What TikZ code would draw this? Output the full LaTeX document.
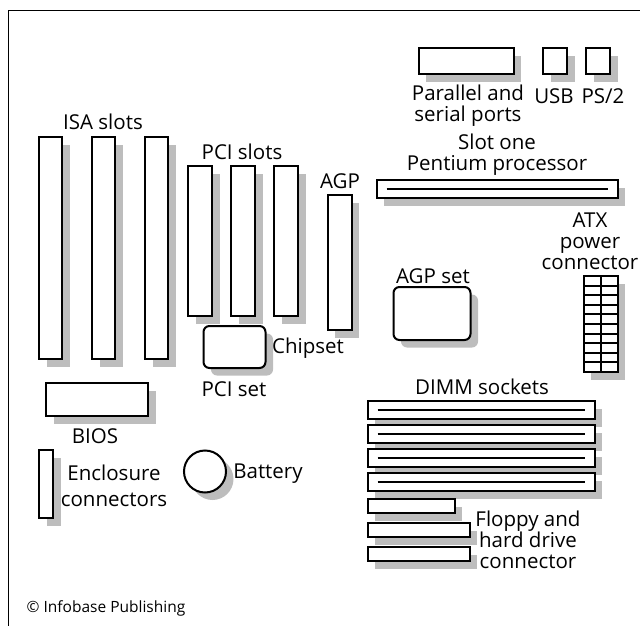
\documentclass[tikz,border=0pt]{standalone}
\usepackage{fontspec}
\setmainfont{Open Sans}
\usepackage{xcolor}
\usetikzlibrary{calc,positioning,shadows}
\definecolor{shade}{HTML}{BDBDBD}

\begin{document}
\begin{tikzpicture}[
  x=1pt,y=-1pt,
  part/.style={draw,line width=2pt,fill=white,inner sep=0pt,outer sep=0pt,anchor=north west,
    drop shadow={shadow xshift=7.5pt,shadow yshift=-7.5pt,fill=shade,opacity=1}},
  isa/.style={part,minimum width=23pt,minimum height=222pt},
  pci/.style={part,minimum width=24pt,minimum height=150pt},
  port/.style={part,minimum width=24pt,minimum height=26pt},
  dimm/.style={part,minimum width=227pt,minimum height=18pt},
  chip/.style={part,rounded corners=6pt},
  drive/.style={part,minimum height=14pt},
  lab/.style={inner sep=0pt,align=center,font=\fontsize{20.5}{21}\selectfont},
  groove/.style={line width=2pt,shorten <=10pt,shorten >=10pt}
]
\useasboundingbox (0,0) rectangle (640,626);
\coordinate (corner) at (8.5,10.5);
\coordinate (top) at (640,10.5);
\coordinate (foot) at (8.5,626);
\draw[line width=1.4pt] (top)--(corner)--(foot);

\node[isa] (isaA) at (39,137) {};
\node[isa,right=30pt of isaA] (isaB) {};
\node[isa,right=30pt of isaB] (isaC) {};
\node[pci] (pciA) at (188,166) {};
\node[pci,right=19pt of pciA] (pciB) {};
\node[pci,right=19pt of pciB] (pciC) {};
\node[part,minimum width=24pt,minimum height=135pt] (agp) at (327.5,195) {};

\node[part,minimum width=95pt,minimum height=26pt] (parallel) at (418.5,48.5) {};
\node[port] (usb) at (543,48.5) {};
\node[port,right=19pt of usb] (ps) {};

\node[part,minimum width=241pt,minimum height=18pt] (slot) at (376.5,180) {};
\draw[groove,line width=2.6pt] (slot.west)--(slot.east);

\node[chip,minimum width=77pt,minimum height=53pt] (agpset) at (393.5,287) {};
\node[part,minimum width=34pt,minimum height=96pt] (atx) at (583.5,276) {};
\draw[line width=2pt] (atx.north)--(atx.south);
\foreach \k in {1,...,9}
  \draw[line width=2pt] ($(atx.north west)!\k/10!(atx.south west)$)--($(atx.north east)!\k/10!(atx.south east)$);

\node[dimm] (dimmA) at (367.5,401) {};
\node[dimm,below=6pt of dimmA] (dimmB) {};
\node[dimm,below=6pt of dimmB] (dimmC) {};
\node[dimm,below=6pt of dimmC] (dimmD) {};
\foreach \d in {dimmA,dimmB,dimmC,dimmD}
  \draw[groove] (\d.west)--(\d.east);
\node[drive,minimum width=87pt] (driveA) at (367.5,499) {};
\node[drive,minimum width=102pt] (driveB) at (367.5,523) {};
\node[drive,minimum width=102pt] (driveC) at (367.5,547) {};

\node[chip,minimum width=62pt,minimum height=42pt] (pciset) at (203.5,326) {};
\node[part,minimum width=102pt,minimum height=33pt] (bios) at (46,383) {};
\node[part,minimum width=14pt,minimum height=68pt] (encl) at (39,450) {};
\node[part,circle,anchor=center,minimum size=42pt] (battery) at (205,471.5) {};

\node[lab] (parallelL) at (468,106) {Parallel and\\serial ports};
\node[lab] (usbL) at (554,96) {USB};
\node[lab] (psL) at (603,96) {PS/2};
\node[lab] (isaL) at (103,122) {ISA slots};
\node[lab] (pciL) at (242,152) {PCI slots};
\node[lab] (slotL) at (497,155) {Slot one\\Pentium processor};
\node[lab] (agpL) at (340,181) {AGP};
\node[lab] (atxL) at (590,241) {ATX\\power\\connector};
\node[lab] (agpsetL) at (433,276) {AGP set};
\node[lab] (dimmL) at (482,387) {DIMM sockets};
\node[lab] (driveL) at (528,540) {Floppy and\\hard drive\\connector};
\node[lab] (chipL) at (308,348) {Chipset};
\node[lab] (pcisetL) at (234,389) {PCI set};
\node[lab] (biosL) at (95,436) {BIOS};
\node[lab] (enclL) at (114,486) {Enclosure\\[5pt]connectors};
\node[lab] (batteryL) at (268,473.5) {Battery};
\node[lab,font=\fontsize{15.5}{18}\selectfont] (credit) at (106,608) {© Infobase Publishing};
\end{tikzpicture}
\end{document}
